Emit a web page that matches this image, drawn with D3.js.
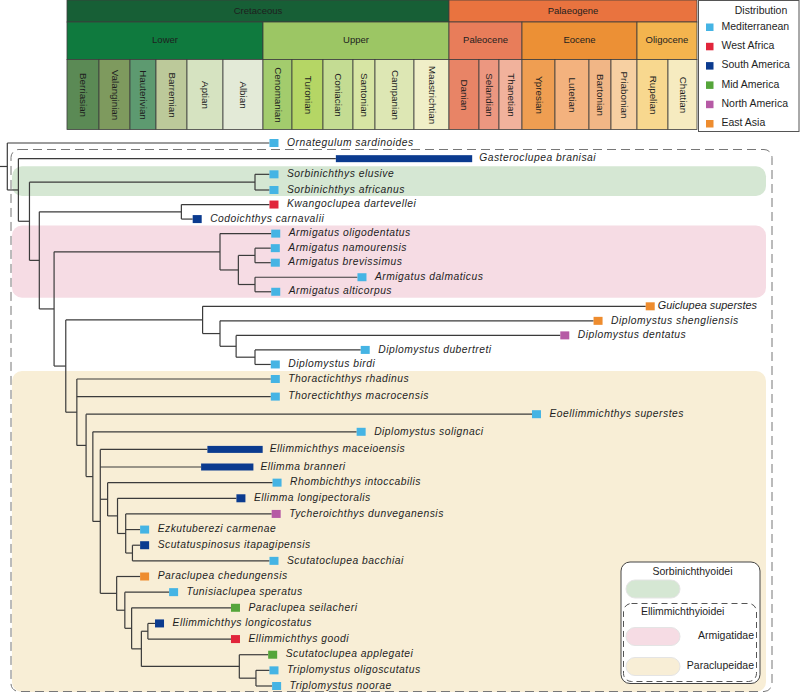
<!DOCTYPE html>
<html>
<head>
<meta charset="utf-8">
<script src="https://cdn.jsdelivr.net/npm/d3@7"></script>
<style>
body { margin: 0; background: #fff; }
text { font-family: "Liberation Sans", Arial, sans-serif; fill: #1e1e1e; }
</style>
</head>
<body>
<div id="chart"></div>
<script>
// time scale, ages in Ma
stageNames = ["Berriasian", "Valanginian", "Hauterivian", "Barremian", "Aptian", "Albian",
  "Cenomanian", "Turonian", "Coniacian", "Santonian", "Campanian", "Maastrichtian",
  "Danian", "Selandian", "Thanetian", "Ypresian", "Lutetian", "Bartonian", "Priabonian",
  "Rupelian", "Chattian"]
stageBase = [145.0, 139.8, 132.6, 129.4, 125.0, 113.0, 100.5, 93.9, 89.8, 86.3, 83.6, 72.1,
  66.0, 61.6, 59.2, 56.0, 47.8, 41.2, 37.8, 33.9, 27.8, 23.03]
seriesNames = ["Lower", "Upper", "Paleocene", "Eocene", "Oligocene"]
seriesBase = [145.0, 100.5, 66.0, 56.0, 33.9, 23.03]
periodNames = ["Cretaceous", "Palaeogene"]
periodBase = [145.0, 66.0, 23.03]

// taxa, top to bottom
taxa = ["Ornategulum sardinoides", "Gasteroclupea branisai", "Sorbinichthys elusive",
  "Sorbinichthys africanus", "Kwangoclupea dartevellei", "Codoichthys carnavalii",
  "Armigatus oligodentatus", "Armigatus namourensis", "Armigatus brevissimus",
  "Armigatus dalmaticus", "Armigatus alticorpus", "Guiclupea superstes",
  "Diplomystus shengliensis", "Diplomystus dentatus", "Diplomystus dubertreti",
  "Diplomystus birdi", "Thoractichthys rhadinus", "Thorectichthys macrocensis",
  "Eoellimmichthys superstes", "Diplomystus solignaci", "Ellimmichthys maceioensis",
  "Ellimma branneri", "Rhombichthys intoccabilis", "Ellimma longipectoralis",
  "Tycheroichthys dunveganensis", "Ezkutuberezi carmenae", "Scutatuspinosus itapagipensis",
  "Scutatoclupea bacchiai", "Paraclupea chedungensis", "Tunisiaclupea speratus",
  "Paraclupea seilacheri", "Ellimmichthys longicostatus", "Ellimmichthys goodi",
  "Scutatoclupea applegatei", "Triplomystus oligoscutatus", "Triplomystus noorae"]
tipRegion = ["Mediterranean", "South America", "Mediterranean", "Mediterranean", "West Africa",
  "South America", "Mediterranean", "Mediterranean", "Mediterranean", "Mediterranean",
  "Mediterranean", "East Asia", "East Asia", "North America", "Mediterranean", "Mediterranean",
  "Mediterranean", "Mediterranean", "Mediterranean", "Mediterranean", "South America",
  "South America", "Mediterranean", "South America", "North America", "Mediterranean",
  "South America", "Mediterranean", "East Asia", "Mediterranean", "Mid America",
  "South America", "West Africa", "Mid America", "Mediterranean", "Mediterranean"]
tipFirst = [98.0, 88.3, 98.0, 98.0, 98.0, 121.6, 97.6, 97.7, 97.7, 85.2, 97.6, 31.3, 39.8, 45.9,
  84.8, 97.7, 97.7, 97.7, 52.4, 85.3, 118.2, 120.3, 97.3, 107.4, 97.5, 130.8, 130.8, 98.0,
  130.8, 126.9, 109.1, 128.9, 109.1, 98.3, 98.0, 97.4]
tipLast = [98.0, 62.6, 98.0, 98.0, 98.0, 121.6, 97.6, 97.7, 97.7, 85.2, 97.6, 31.3, 39.8, 45.9,
  84.8, 97.7, 97.7, 97.7, 52.4, 85.3, 100.6, 103.5, 97.3, 107.4, 97.5, 130.8, 130.8, 98.0,
  130.8, 126.9, 109.1, 128.9, 109.1, 98.3, 98.0, 97.4]
tipParent = ["root", "n1", "sorb", "sorb", "kwango", "kwango", "arm", "arm3", "arm3", "arm4", "arm4",
  "dg1", "dg2", "dg3", "dg4", "dg4", "n6", "n6", "n7", "n8", "n9", "n9", "n10", "n12", "n13", "n13",
  "n14", "n14", "n11", "n15", "n16", "n18", "n18", "n19", "n20", "n20"]

// internal nodes
nodeId = ["root", "n1", "n2", "sorb", "n3", "kwango", "n4", "arm", "arm2", "arm3", "arm4", "n5",
  "dg1", "dg2", "dg3", "dg4", "n6", "n7", "n8", "n9", "n10", "n12", "n13", "n14", "n11", "n15",
  "n16", "n17", "n18", "n19", "n20"]
nodeParent = ["", "root", "n1", "n2", "n2", "n3", "n3", "n4", "arm", "arm2", "arm2", "n4",
  "n5", "dg1", "dg2", "dg3", "n5", "n6", "n7", "n8", "n9", "n10", "n12", "n13", "n9", "n11",
  "n15", "n16", "n17", "n17", "n19"]
nodeAge = [154.7, 152.9, 151.1, 103.0, 149.5, 125.8, 147.1, 114.0, 108.2, 103.0, 103.0, 145.2,
  119.8, 114.0, 108.9, 103.0, 143.4, 141.9, 140.8, 139.5, 137.8, 135.5, 133.6, 132.3, 135.7,
  133.8, 132.4, 131.2, 130.4, 107.9, 102.7]

regions = ["Mediterranean", "West Africa", "South America", "Mid America", "North America", "East Asia"]
bandNames = ["Sorbinichthyoidei", "Armigatidae", "Paraclupeidae"]
bandFirst = ["Sorbinichthys elusive", "Armigatus oligodentatus", "Thoractichthys rhadinus"]
bandLast = ["Sorbinichthys africanus", "Armigatus alticorpus", "Triplomystus noorae"]

periodColor = { "Cretaceous": "#175f36", "Palaeogene": "#e9733f" }
seriesColor = { "Lower": "#0f7a3e", "Upper": "#9cc664", "Paleocene": "#e87d5a",
  "Eocene": "#ec9035", "Oligocene": "#f4b44e" }
stageColor = { "Berriasian": "#5b8a55", "Valanginian": "#7e9a5e", "Hauterivian": "#5d9a70",
  "Barremian": "#bcc99a", "Aptian": "#d6e3c1", "Albian": "#e3ead7", "Cenomanian": "#a3cc6d",
  "Turonian": "#b5d665", "Coniacian": "#c4dc93", "Santonian": "#d7e5a4", "Campanian": "#dde7b4",
  "Maastrichtian": "#f0efc8", "Danian": "#e88466", "Selandian": "#ec9780", "Thanetian": "#f1b29c",
  "Ypresian": "#ef9e52", "Lutetian": "#f3b27e", "Bartonian": "#f1b686", "Priabonian": "#f7d0a2",
  "Rupelian": "#f8d88f", "Chattian": "#f6ebc0" }
regionColor = { "Mediterranean": "#45b4e4", "West Africa": "#e1253b", "South America": "#0b3b8f",
  "Mid America": "#55a53a", "North America": "#b65aa5", "East Asia": "#ee8c2e" }
bandColor = { "Sorbinichthyoidei": "#d5e7d3", "Armigatidae": "#f6dce4", "Paraclupeidae": "#f8eed6" }

width = 800
height = 694
lineColor = "#3b3b3b"

svg = d3.select("#chart").append("svg")
  .attr("width", width)
  .attr("height", height)

// stage widths are not proportional to time in the figure
x = d3.scaleLinear()
  .domain(stageBase)
  .range([67, 99, 130, 156, 187, 223, 263, 292, 323, 353, 375, 414, 449, 479, 499, 522, 555, 589, 611, 637, 668, 697])
row = d3.scaleLinear().domain([0, 3, 16, 21, 35]).range([143, 190, 379, 467, 686])

// ---- time scale header
header = svg.append("g")
rowTop = [0, 22, 59.5]
rowBottom = [22, 59.5, 129.5]

function band(names, bases, colors, k) {
  var g = header.append("g")
  g.selectAll("rect").data(names).join("rect")
    .attr("x", (d, i) => x(bases[i]))
    .attr("width", (d, i) => x(bases[i + 1]) - x(bases[i]))
    .attr("y", rowTop[k])
    .attr("height", rowBottom[k] - rowTop[k])
    .attr("fill", d => colors[d])
    .attr("stroke", "#3d3d3d")
    .attr("stroke-width", 0.8)
  return g
}

band(periodNames, periodBase, periodColor, 0).selectAll("text").data(periodNames).join("text")
  .attr("x", (d, i) => (x(periodBase[i]) + x(periodBase[i + 1])) / 2)
  .attr("y", 11.5)
  .attr("text-anchor", "middle")
  .attr("dominant-baseline", "middle")
  .attr("font-size", 9.5)
  .text(d => d)

band(seriesNames, seriesBase, seriesColor, 1).selectAll("text").data(seriesNames).join("text")
  .attr("x", (d, i) => (x(seriesBase[i]) + x(seriesBase[i + 1])) / 2)
  .attr("y", 40.5)
  .attr("text-anchor", "middle")
  .attr("dominant-baseline", "middle")
  .attr("font-size", 9.5)
  .text(d => d)

band(stageNames, stageBase, stageColor, 2).selectAll("text").data(stageNames).join("text")
  .attr("transform", (d, i) => "translate(" + (x(stageBase[i]) + x(stageBase[i + 1])) / 2 + ",95) rotate(90)")
  .attr("text-anchor", "middle")
  .attr("dominant-baseline", "middle")
  .attr("font-size", 9.8)
  .text(d => d)

// ---- distribution legend
dist = svg.append("g")
dist.append("rect")
  .attr("x", 698.5).attr("y", 0.5).attr("width", 100.5).attr("height", 131)
  .attr("fill", "#fff").attr("stroke", "#555").attr("stroke-width", 1)
dist.append("text")
  .attr("x", 761).attr("y", 11).attr("text-anchor", "middle").attr("dominant-baseline", "middle")
  .attr("font-size", 10.5).text("Distribution")
distItem = dist.selectAll(".item").data(regions).join("g")
  .attr("class", "item")
  .attr("transform", (d, i) => "translate(706," + (27 + i * 19.3) + ")")
distItem.append("rect")
  .attr("x", 0).attr("y", -3.5).attr("width", 7.5).attr("height", 7.5)
  .attr("fill", d => regionColor[d])
distItem.append("text")
  .attr("x", 15.5).attr("dominant-baseline", "middle").attr("font-size", 10.5)
  .text(d => d)

// ---- tree
tipRows = taxa.map((t, i) => ({ id: t, parent: tipParent[i], age: tipFirst[i], last: tipLast[i],
  region: tipRegion[i], row: i }))
nodeRows = nodeId.map((id, i) => ({ id: id, parent: nodeParent[i] || null, age: nodeAge[i] }))
tree = d3.stratify().id(d => d.id).parentId(d => d.parent)(nodeRows.concat(tipRows))

tree.eachAfter(function(n) {
  n.px = x(n.data.age)
  if (!n.children) {
    n.py = row(n.data.row)
  } else {
    var ext = d3.extent(n.children, c => c.py)
    n.lo = ext[0]
    n.hi = ext[1]
    n.py = (ext[0] + ext[1]) / 2
  }
})

isBar = d => d.data.last !== d.data.age

// clade shading
bands = svg.append("g")
bands.selectAll("rect").data(bandNames).join("rect")
  .attr("x", 12)
  .attr("width", 754)
  .attr("y", (d, i) => row(taxa.indexOf(bandFirst[i])) - 8)
  .attr("height", (d, i) => row(taxa.indexOf(bandLast[i])) - row(taxa.indexOf(bandFirst[i])) + 14)
  .attr("rx", 10)
  .attr("fill", d => bandColor[d])

svg.append("rect")
  .attr("x", 11).attr("y", 149.5).attr("width", 761).attr("height", 542).attr("rx", 8)
  .attr("fill", "none").attr("stroke", "#777").attr("stroke-width", 1)
  .attr("stroke-dasharray", "9,5")

branches = svg.append("g")
  .attr("fill", "none")
  .attr("stroke", lineColor)
  .attr("stroke-width", 1.2)

branches.append("path")
  .attr("d", "M0," + tree.py + "H" + tree.px)

branches.selectAll(".h").data(tree.descendants().slice(1)).join("path")
  .attr("class", "h")
  .attr("d", function(d) {
    var end = d.children ? d.px : (isBar(d) ? d.px : d.px - 4.5)
    return "M" + d.parent.px + "," + d.py + "H" + end
  })

branches.selectAll(".v").data(tree.descendants().filter(d => d.children)).join("path")
  .attr("class", "v")
  .attr("d", d => "M" + d.px + "," + d.lo + "V" + d.hi)

leaves = tree.leaves()

svg.append("g").selectAll("rect").data(leaves).join("rect")
  .attr("x", d => isBar(d) ? d.px : d.px - 4.5)
  .attr("width", d => isBar(d) ? x(d.data.last) - d.px : 9)
  .attr("y", d => d.py - (isBar(d) ? 3.5 : 4))
  .attr("height", d => isBar(d) ? 7 : 8)
  .attr("fill", d => regionColor[d.data.region])

plainLabel = ["Guiclupea superstes"]

svg.append("g").selectAll("text").data(leaves).join("text")
  .attr("x", function(d) {
    if (isBar(d)) return x(d.data.last) + 7
    return d.px + 4.5 + (plainLabel.includes(d.id) ? 3 : 8.5)
  })
  .attr("y", d => d.py)
  .attr("dominant-baseline", "middle")
  .attr("font-style", "italic")
  .attr("font-size", d => plainLabel.includes(d.id) ? 10.9 : 10.3)
  .attr("letter-spacing", d => plainLabel.includes(d.id) ? 0 : 0.5)
  .text(d => d.id)

// ---- clade legend
key = svg.append("g")
key.append("rect")
  .attr("x", 621).attr("y", 562).attr("width", 139).attr("height", 121.5).attr("rx", 9)
  .attr("fill", "#fff").attr("stroke", "#444").attr("stroke-width", 1)
key.append("rect")
  .attr("x", 623.5).attr("y", 603.5).attr("width", 133).attr("height", 78).attr("rx", 8)
  .attr("fill", "none").attr("stroke", "#555").attr("stroke-width", 1).attr("stroke-dasharray", "6,4")
key.append("text")
  .attr("x", 692.5).attr("y", 572).attr("text-anchor", "middle").attr("dominant-baseline", "middle")
  .attr("font-size", 10.5).text("Sorbinichthyoidei")
key.append("text")
  .attr("x", 641).attr("y", 612.5).attr("dominant-baseline", "middle")
  .attr("font-size", 10.5).text("Ellimmichthyioidei")
pillY = [580, 627.5, 657.5]
key.selectAll(".pill").data(bandNames).join("rect")
  .attr("class", "pill")
  .attr("x", 626).attr("y", (d, i) => pillY[i]).attr("width", 54).attr("height", 18).attr("rx", 9)
  .attr("fill", d => bandColor[d]).attr("stroke", "#e4e4e4")
key.selectAll(".lab").data(bandNames.slice(1)).join("text")
  .attr("class", "lab")
  .attr("x", 754).attr("y", (d, i) => pillY[i + 1] + 9)
  .attr("text-anchor", "end").attr("dominant-baseline", "middle")
  .attr("font-size", 10.5).text(d => d)
</script>
</body>
</html>
